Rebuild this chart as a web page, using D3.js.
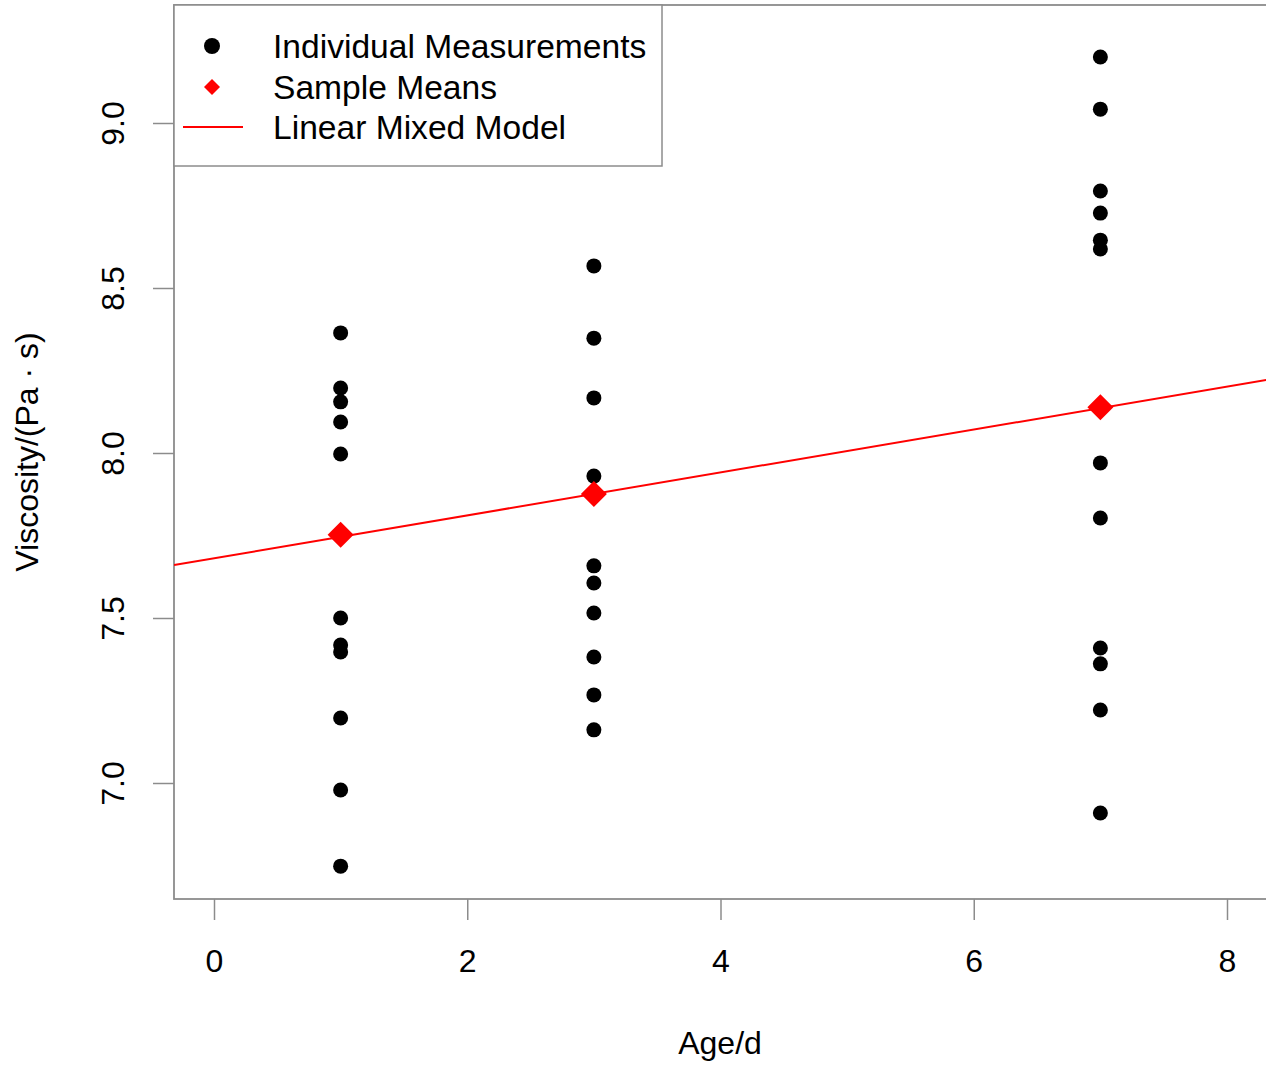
<!DOCTYPE html>
<html><head><meta charset="utf-8">
<script src="https://cdn.jsdelivr.net/npm/d3@7"></script>
<style>body{margin:0;background:#fff}svg{display:block}text{font-family:"Liberation Sans",Arial,sans-serif;fill:#000}</style>
</head><body><svg id="c" width="1266" height="1067"></svg>
<script>
const ages = [1, 3, 7];
const day1 = [8.364, 8.197, 8.155, 8.094, 7.997, 7.500, 7.418, 7.397, 7.197, 6.979, 6.748];
const day3 = [8.567, 8.348, 8.167, 7.930, 7.658, 7.606, 7.515, 7.382, 7.267, 7.161];
const day7 = [9.200, 9.042, 8.794, 8.727, 8.645, 8.618, 7.970, 7.803, 7.409, 7.361, 7.221, 6.909];
const means = [7.752, 7.876, 8.139];
const lmmIntercept = 7.681, lmmSlope = 0.065;
const xTicks = [0, 2, 4, 6, 8];
const yTicks = [7.0, 7.5, 8.0, 8.5, 9.0];
const legendLabels = ["Individual Measurements", "Sample Means", "Linear Mixed Model"];

const svg = d3.select("#c");
const x = d3.scaleLinear().domain([0, 8]).range([214, 1227]);
const y = d3.scaleLinear().domain([7, 9]).range([783, 123]);
const box = {l: 174, t: 5, r: 1290, b: 899};

svg.append("clipPath").attr("id", "clip").append("rect")
  .attr("x", box.l).attr("y", box.t).attr("width", box.r - box.l).attr("height", box.b - box.t);

const gray = "#8c8c8c";
// x axis
const xa = svg.append("g").attr("transform", `translate(0,${box.b})`)
  .call(d3.axisBottom(x).tickValues(xTicks).tickSize(21).tickPadding(29).tickFormat(d3.format("d")));
xa.select(".domain").remove();
xa.selectAll("line").attr("stroke", gray).attr("stroke-width", 1.5);
xa.selectAll("text").attr("font-size", 32).style("font-family", "Liberation Sans, Arial, sans-serif");
// y axis
const ya = svg.append("g").attr("transform", `translate(${box.l},0)`)
  .call(d3.axisLeft(y).tickValues(yTicks).tickSize(21).tickPadding(0).tickFormat(d3.format(".1f")));
ya.select(".domain").remove();
ya.selectAll("line").attr("stroke", gray).attr("stroke-width", 1.5);
ya.selectAll("text").attr("font-size", 32).attr("x", 0).attr("dy", null)
  .attr("text-anchor", "middle").style("font-family", "Liberation Sans, Arial, sans-serif")
  .attr("transform", "translate(-61,0) rotate(-90)").attr("y", 11);

// plot box
svg.append("rect").attr("x", box.l).attr("y", box.t).attr("width", box.r - box.l).attr("height", box.b - box.t)
  .attr("fill", "none").attr("stroke", gray).attr("stroke-width", 1.8);

// model line
const plot = svg.append("g").attr("clip-path", "url(#clip)");
const xd = [x.invert(box.l), x.invert(box.r)];
plot.append("line")
  .attr("x1", x(xd[0])).attr("y1", y(lmmIntercept + lmmSlope * xd[0]))
  .attr("x2", x(xd[1])).attr("y2", y(lmmIntercept + lmmSlope * xd[1]))
  .attr("stroke", "#ff0000").attr("stroke-width", 2);

// points
const groups = [day1, day3, day7];
const pts = [];
groups.forEach((g, i) => g.forEach(v => pts.push({a: ages[i], v})));
plot.selectAll("circle.pt").data(pts).enter().append("circle")
  .attr("cx", d => x(d.a)).attr("cy", d => y(d.v)).attr("r", 7.5).attr("fill", "#000");

const diamond = s => `M0,${-s}L${s},0L0,${s}L${-s},0Z`;
plot.selectAll("path.mean").data(means).enter().append("path")
  .attr("d", diamond(13)).attr("fill", "#ff0000")
  .attr("transform", (d, i) => `translate(${x(ages[i])},${y(d)})`);

// legend
const lg = svg.append("g");
lg.append("rect").attr("x", box.l).attr("y", box.t).attr("width", 662 - box.l).attr("height", 166 - box.t)
  .attr("fill", "#fff").attr("stroke", gray).attr("stroke-width", 1.5);
const rows = [46, 87, 127];
lg.append("circle").attr("cx", 212).attr("cy", rows[0]).attr("r", 8).attr("fill", "#000");
lg.append("path").attr("d", diamond(8)).attr("fill", "#ff0000").attr("transform", `translate(212,${rows[1]})`);
lg.append("line").attr("x1", 183).attr("x2", 243).attr("y1", rows[2]).attr("y2", rows[2])
  .attr("stroke", "#ff0000").attr("stroke-width", 2);
lg.selectAll("text.l").data(legendLabels).enter().append("text")
  .attr("x", 273).attr("y", (d, i) => rows[i] + 12).attr("font-size", 33.6).text(d => d);

// axis titles
svg.append("text").attr("x", 720).attr("y", 1054).attr("text-anchor", "middle").attr("font-size", 32).text("Age/d");
svg.append("text").attr("transform", "translate(38,452) rotate(-90)").attr("text-anchor", "middle")
  .attr("font-size", 32).text("Viscosity/(Pa \u00b7 s)");
</script></body></html>
